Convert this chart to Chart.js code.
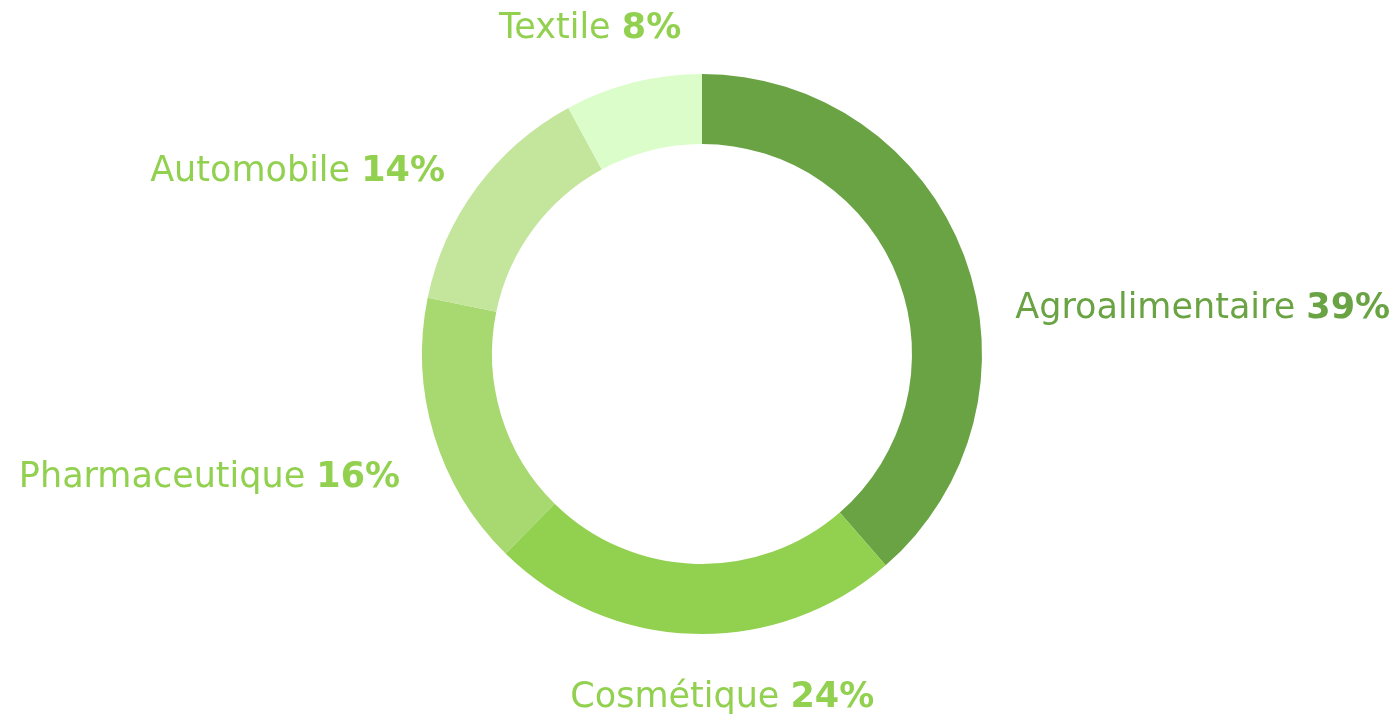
<!DOCTYPE html>
<html>
<head>
<meta charset="utf-8">
<script src="https://cdn.jsdelivr.net/npm/chart.js@4"></script>
<style>
  html, body { margin: 0; padding: 0; background: #fff; }
  #wrap { width: 1396px; height: 718px; }
</style>
</head>
<body>
<div id="wrap"><canvas id="myChart"></canvas></div>
<script>
var categories = ["Agroalimentaire", "Cosmétique", "Pharmaceutique", "Automobile", "Textile"];
var shares = [39, 24, 16, 14, 8];
var sliceColors = ["#6aa344", "#92d050", "#a8d870", "#c3e59c", "#dbfdc9"];
var labelColors = ["#6aa344", "#92d050", "#92d050", "#92d050", "#92d050"];
// nudges of each label away from its slice's outer mid point
var labelNudge = [[51, 53], [29, 64], [-34, 42], [-32, -15], [-43, -54]];
var labelAlign = ["left", "center", "right", "right", "center"];

var FONT = "'DejaVu Sans', sans-serif";
var FONT_SIZE = 35;

var outsideLabels = {
  id: "outsideLabels",
  afterDraw: function (chart) {
    var ctx = chart.ctx;
    var arcs = chart.getDatasetMeta(0).data;
    ctx.save();
    ctx.textBaseline = "middle";
    arcs.forEach(function (arc, i) {
      var mid = (arc.startAngle + arc.endAngle) / 2;
      var x = arc.x + Math.cos(mid) * arc.outerRadius + labelNudge[i][0];
      var y = arc.y + Math.sin(mid) * arc.outerRadius + labelNudge[i][1];
      var name = categories[i] + " ";
      var pct = shares[i] + "%";
      ctx.font = "normal " + FONT_SIZE + "px " + FONT;
      var w1 = ctx.measureText(name).width;
      ctx.font = "bold " + FONT_SIZE + "px " + FONT;
      var w2 = ctx.measureText(pct).width;
      var total = w1 + w2;
      var left = x;
      if (labelAlign[i] === "center") left = x - total / 2;
      if (labelAlign[i] === "right") left = x - total;
      ctx.textAlign = "left";
      ctx.fillStyle = labelColors[i];
      ctx.font = "normal " + FONT_SIZE + "px " + FONT;
      ctx.fillText(name, left, y);
      ctx.font = "bold " + FONT_SIZE + "px " + FONT;
      ctx.fillText(pct, left + w1, y);
    });
    ctx.restore();
  }
};

var ctx = document.getElementById("myChart").getContext("2d");
var myChart = new Chart(ctx, {
  type: "doughnut",
  data: {
    labels: categories,
    datasets: [
      {
        data: shares,
        backgroundColor: sliceColors,
        borderWidth: 0,
      },
    ],
  },
  options: {
    responsive: true,
    maintainAspectRatio: false,
    animation: false,
    cutout: "75%",
    layout: {
      padding: { top: 74, bottom: 84, left: 8, right: 0 },
    },
    plugins: {
      legend: { display: false },
      tooltip: { enabled: false },
    },
  },
  plugins: [outsideLabels],
});
</script>
</body>
</html>
